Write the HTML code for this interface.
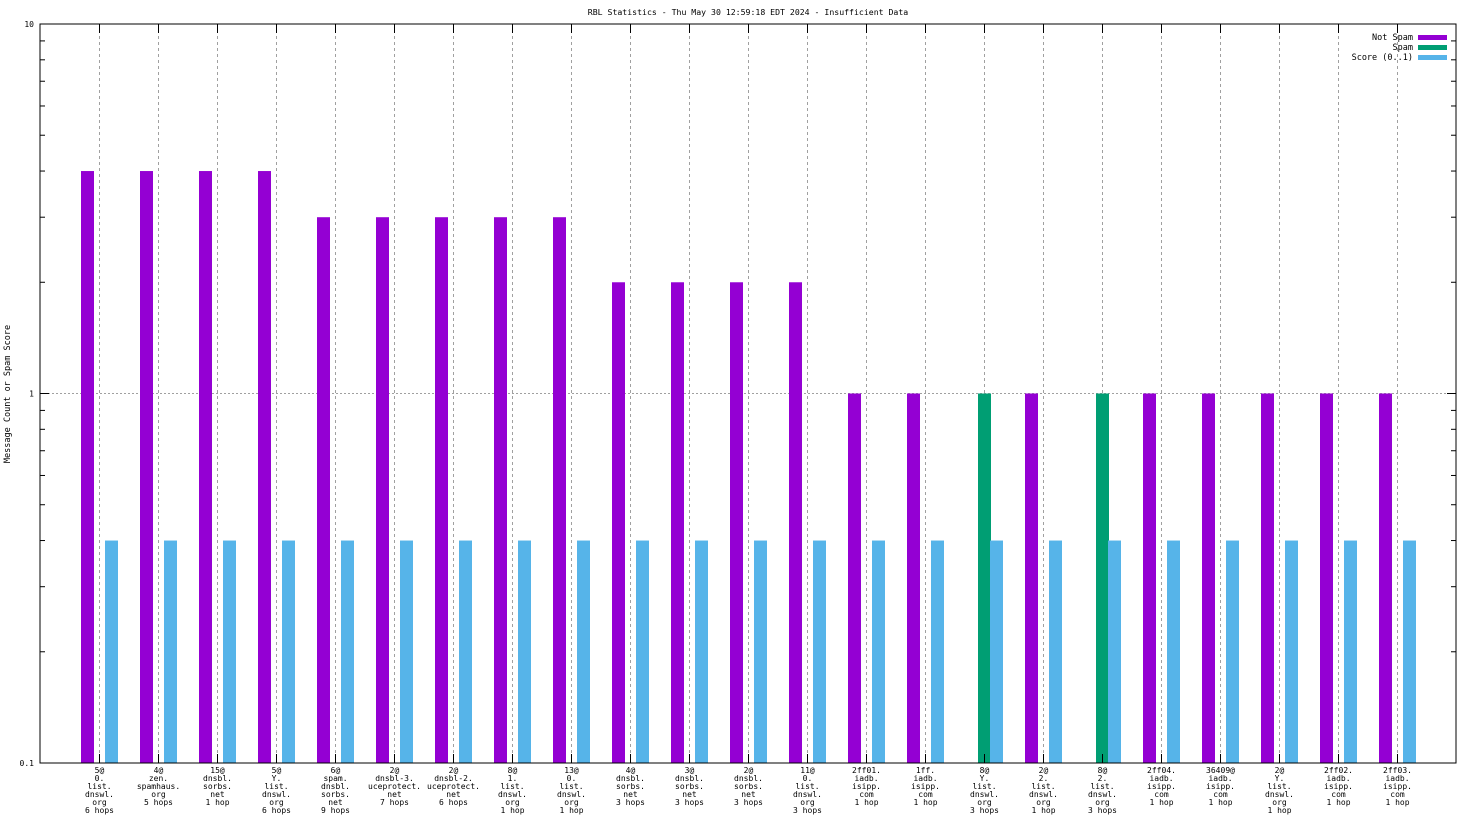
<!DOCTYPE html>
<html><head><meta charset="utf-8">
<style>
html,body{margin:0;padding:0;background:#fff;}
svg{display:block;font-family:"DejaVu Sans Mono","Liberation Mono",monospace;}
</style></head>
<body>
<svg id="chart" width="1472" height="828" viewBox="0 0 1472 828" xmlns="http://www.w3.org/2000/svg">
<text x="748" y="15" font-size="8.2" text-anchor="middle">RBL Statistics - Thu May 30 12:59:18 EDT 2024 - Insufficient Data</text>
<text transform="translate(10,394) rotate(-90)" font-size="8.5" text-anchor="middle">Message Count or Spam Score</text>
<g id="grid"></g>
<g id="bars"></g>
<g id="axes"></g>
<g id="labels"></g>
<g font-size="8.5">
<text x="1413" y="40" text-anchor="end">Not Spam</text>
<rect x="1418" y="35" width="29" height="5" fill="#9400d3"/>
<text x="1413" y="50" text-anchor="end">Spam</text>
<rect x="1418" y="45" width="29" height="5" fill="#009e73"/>
<text x="1413" y="60" text-anchor="end">Score (0..1)</text>
<rect x="1418" y="55" width="29" height="5" fill="#56b4e9"/>
</g>
</svg>
<script>
const categories = [
"5@\n0.\nlist.\ndnswl.\norg\n6 hops","4@\nzen.\nspamhaus.\norg\n5 hops","15@\ndnsbl.\nsorbs.\nnet\n1 hop","5@\nY.\nlist.\ndnswl.\norg\n6 hops","6@\nspam.\ndnsbl.\nsorbs.\nnet\n9 hops","2@\ndnsbl-3.\nuceprotect.\nnet\n7 hops","2@\ndnsbl-2.\nuceprotect.\nnet\n6 hops","8@\n1.\nlist.\ndnswl.\norg\n1 hop","13@\n0.\nlist.\ndnswl.\norg\n1 hop","4@\ndnsbl.\nsorbs.\nnet\n3 hops","3@\ndnsbl.\nsorbs.\nnet\n3 hops","2@\ndnsbl.\nsorbs.\nnet\n3 hops",
"11@\n0.\nlist.\ndnswl.\norg\n3 hops","2ff01.\niadb.\nisipp.\ncom\n1 hop","1ff.\niadb.\nisipp.\ncom\n1 hop","8@\nY.\nlist.\ndnswl.\norg\n3 hops","2@\n2.\nlist.\ndnswl.\norg\n1 hop","8@\n2.\nlist.\ndnswl.\norg\n3 hops","2ff04.\niadb.\nisipp.\ncom\n1 hop","36409@\niadb.\nisipp.\ncom\n1 hop","2@\nY.\nlist.\ndnswl.\norg\n1 hop","2ff02.\niadb.\nisipp.\ncom\n1 hop","2ff03.\niadb.\nisipp.\ncom\n1 hop"];
const notSpam = [4,4,4,4,3,3,3,3,3,2,2,2,2,1,1,0,1,0,1,1,1,1,1];
const spam    = [0,0,0,0,0,0,0,0,0,0,0,0,0,0,0,1,0,1,0,0,0,0,0];
const score   = [0.4,0.4,0.4,0.4,0.4,0.4,0.4,0.4,0.4,0.4,0.4,0.4,0.4,0.4,0.4,0.4,0.4,0.4,0.4,0.4,0.4,0.4,0.4];
const yTicks = [0.1,1,10];
const yTickLabels = ["0.1","1","10"];

const NS="http://www.w3.org/2000/svg";
const L=40,R=1456,T=24,B=763;
const yMin=0.1,yMax=10;
function y(v){return B-(Math.log10(v)-Math.log10(yMin))/(Math.log10(yMax)-Math.log10(yMin))*(B-T);}
function x(i){return 99.5+i*59;}
function mk(tag,attrs,parent){const e=document.createElementNS(NS,tag);for(const k in attrs)e.setAttribute(k,attrs[k]);parent.appendChild(e);return e;}
const grid=document.getElementById('grid'),bars=document.getElementById('bars'),axes=document.getElementById('axes'),labels=document.getElementById('labels');

categories.forEach((c,i)=>{
  const g=mk('line',{x1:x(i),x2:x(i),y1:T,y2:B,stroke:'#a0a0a0','stroke-width':1,'stroke-dasharray':'3,3'},grid);
  
  
  const t1=mk('line',{x1:x(i),x2:x(i),y1:T,y2:T+9,stroke:'#000'},axes);
  
  
  const t2=mk('line',{x1:x(i),x2:x(i),y1:B,y2:B-9,stroke:'#000'},axes);
  
  
  const tx=mk('text',{x:x(i),y:B+10,'font-size':8,'text-anchor':'middle'},labels);
  
  
  c.split('\n').forEach((ln,k)=>{const s=mk('tspan',{x:x(i),dy:k?8:0},tx);s.textContent=ln;});
  if(notSpam[i]>0){
    const b=mk('rect',{x:x(i)-18.5,y:y(notSpam[i]),width:13,height:B-y(notSpam[i]),fill:'#9400d3'},bars);
    
    
  }
  if(spam[i]>0){
    const b=mk('rect',{x:x(i)-6.5,y:y(spam[i]),width:13,height:B-y(spam[i]),fill:'#009e73'},bars);
    
    
  }
  if(score[i]>0){
    const b=mk('rect',{x:x(i)+5.5,y:y(score[i]),width:13,height:B-y(score[i]),fill:'#56b4e9'},bars);
    
    
  }
});
const hg=mk('line',{x1:L,x2:R,y1:y(1),y2:y(1),stroke:'#a0a0a0','stroke-dasharray':'2,2'},grid);


yTicks.forEach((v,i)=>{
  const t=mk('text',{x:L-6,y:y(v)+3,'font-size':8,'text-anchor':'end'},labels);
  
  
  t.textContent=yTickLabels[i];
  [[L,L+9],[R,R-9]].forEach(p=>{const l=mk('line',{x1:p[0],x2:p[1],y1:y(v),y2:y(v),stroke:'#000'},axes);
  
  });
  if(i<yTicks.length-1){
    for(let m=2;m<=9;m++){
      const yy=y(v*m);
      [[L,L+5],[R,R-5]].forEach(p=>{const l=mk('line',{x1:p[0],x2:p[1],y1:yy,y2:yy,stroke:'#000'},axes);
      
      });
    }
  }
});
const fr=mk('rect',{x:L,y:T,width:R-L,height:B-T,fill:'none',stroke:'#000','stroke-width':1},axes);


</script>
</body></html>
